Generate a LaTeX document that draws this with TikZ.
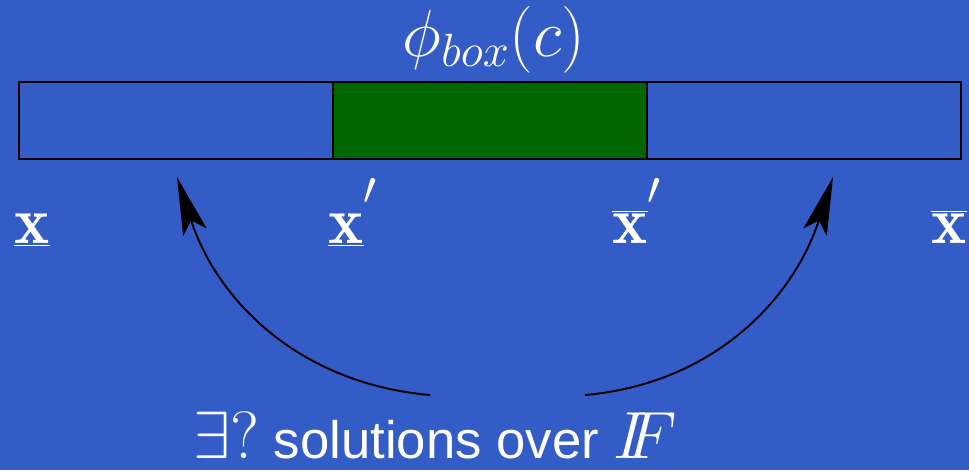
\RequirePackage{fix-cm}
\documentclass[tikz,border=0pt]{standalone}
\usepackage{fontspec}
\setsansfont{Liberation Sans}
\usetikzlibrary{positioning, arrows.meta, calc}
\definecolor{slideblue}{RGB}{51,92,198}
\definecolor{boxgreen}{RGB}{0,102,0}
\newcommand{\hiprime}{^{\raisebox{8pt}{$\scriptstyle\prime$}}}

\begin{document}
\begin{tikzpicture}[x=0.02cm, y=-0.02cm, >={Stealth[length=33pt, width=14pt, inset=7pt]},
  seg/.style={draw, line width=1.1pt, minimum width=6.28cm, minimum height=1.54cm, inner sep=0pt, outer sep=0pt},
  lbl/.style={text=white, inner sep=0pt, font=\fontsize{38}{44}\selectfont},
  query/.style={text=white, inner sep=0pt, font=\fontsize{30}{36}\selectfont\sffamily}]
  \fill[slideblue] (0,0) rectangle (969,470);
  \node[seg] (lo) at (176,120.5) {};
  \node[seg, fill=boxgreen, right=0pt of lo] (mid) {};
  \node[seg, right=0pt of mid] (hi) {};
  \node[lbl, anchor=base] (phi) at (494,56) {$\phi_{box}(c)$};
  \node[lbl, anchor=base west] (xlo) at (14,243) {$\underline{\mathbf{x}}$};
  \node[lbl, anchor=base west] (xlop) at (328,243) {$\underline{\mathbf{x}}\hiprime$};
  \node[lbl, anchor=base west] (xhip) at (612,243) {$\overline{\mathbf{x}}\hiprime$};
  \node[lbl, anchor=base east] (xhi) at (967,243) {$\overline{\mathbf{x}}$};
  \node[query, anchor=base] (ask) at (435,458) {{\fontsize{38}{44}\selectfont$\exists?$} solutions over {\fontsize{38}{44}\selectfont$I\!\!F$}};
  \coordinate (qa) at (430,395);
  \coordinate (qb) at (585,395);
  \coordinate (tipa) at (177,177);
  \coordinate (tipb) at (833,177);
  \draw[->, line width=1.1pt] (qa) to[out=175, in=-72] (tipa);
  \draw[->, line width=1.1pt] (qb) to[out=5, in=-108] (tipb);
\end{tikzpicture}
\end{document}
